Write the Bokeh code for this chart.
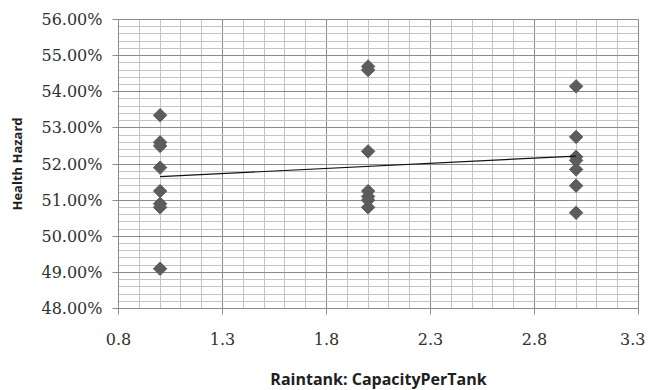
import numpy as np
from bokeh.plotting import figure
from bokeh.models import (ColumnDataSource, FixedTicker, NumeralTickFormatter,
                          Range1d, CustomJSTickFormatter)
from bokeh.embed import file_html
from bokeh.resources import INLINE

# Data
capacity = [1, 1, 1, 1, 1, 1, 1, 1,
            2, 2, 2, 2, 2, 2, 2,
            3, 3, 3, 3, 3, 3, 3]
hazard_pct = [53.35, 52.6, 52.5, 51.9, 51.25, 50.9, 50.8, 49.1,
              54.7, 54.6, 52.35, 51.25, 51.1, 51.0, 50.8,
              54.15, 52.75, 52.2, 52.1, 51.85, 51.4, 50.65]
trend_x = [1, 3]
trend_pct = [51.65, 52.22]
x_ticks = [0.8, 1.3, 1.8, 2.3, 2.8, 3.3]
y_ticks = [0.48, 0.49, 0.50, 0.51, 0.52, 0.53, 0.54, 0.55, 0.56]

hazard = [v / 100 for v in hazard_pct]
trend_y = [v / 100 for v in trend_pct]

p = figure(width=645, height=388, output_backend="svg", toolbar_location=None,
           x_range=Range1d(0.8, 3.3), y_range=Range1d(0.48, 0.56),
           min_border_left=118, min_border_right=7, min_border_top=19,
           min_border_bottom=10)
p.frame_width = 520
p.frame_height = 289

p.background_fill_color = "white"
p.border_fill_color = "white"
p.outline_line_color = "#8c8c8c"
p.outline_line_width = 1

# grids
p.xgrid.ticker = FixedTicker(ticks=x_ticks, minor_ticks=list(np.round(np.arange(0.8, 3.31, 0.1), 2)))
p.ygrid.ticker = FixedTicker(ticks=y_ticks, minor_ticks=list(np.round(np.arange(0.48, 0.5601, 0.002), 4)))
for g in (p.xgrid, p.ygrid):
    g.grid_line_color = "#8a8a8a"
    g.grid_line_width = 1
    g.minor_grid_line_color = "#c4c4c4"
    g.minor_grid_line_width = 1

# axes
p.xaxis.ticker = FixedTicker(ticks=x_ticks)
p.yaxis.ticker = FixedTicker(ticks=y_ticks)
p.xaxis.formatter = CustomJSTickFormatter(code="return tick.toFixed(1);")
p.yaxis.formatter = NumeralTickFormatter(format="0.00%")
for ax in (p.xaxis, p.yaxis):
    ax.axis_line_color = "#8c8c8c"
    ax.major_tick_line_color = "#8c8c8c"
    ax.major_tick_out = 6
    ax.major_tick_in = 0
    ax.minor_tick_line_color = None
    ax.major_label_text_font = "DejaVu Serif"
    ax.major_label_text_font_size = "16px"
    ax.major_label_text_color = "#303030"
    ax.axis_label_text_font = "Open Sans"
    ax.axis_label_text_font_style = "bold"
    ax.axis_label_text_color = "#202020"
p.xaxis.axis_label_text_font_size = "16px"
p.yaxis.axis_label_text_font_size = "13px"
p.xaxis.major_label_standoff = 18
p.yaxis.major_label_standoff = 10
p.xaxis.axis_label = "Raintank: CapacityPerTank"
p.yaxis.axis_label = "Health Hazard"
p.xaxis.axis_label_standoff = 20
p.yaxis.axis_label_standoff = 12

src = ColumnDataSource(dict(x=capacity, y=hazard))
p.scatter("x", "y", source=src, marker="square", size=9.5, angle=np.pi / 4,
          fill_color="#5c5c5c", line_color="#5c5c5c")
p.line(trend_x, trend_y, line_color="#111111", line_width=1.2)

open("out.html", "w").write(file_html(p, INLINE))
